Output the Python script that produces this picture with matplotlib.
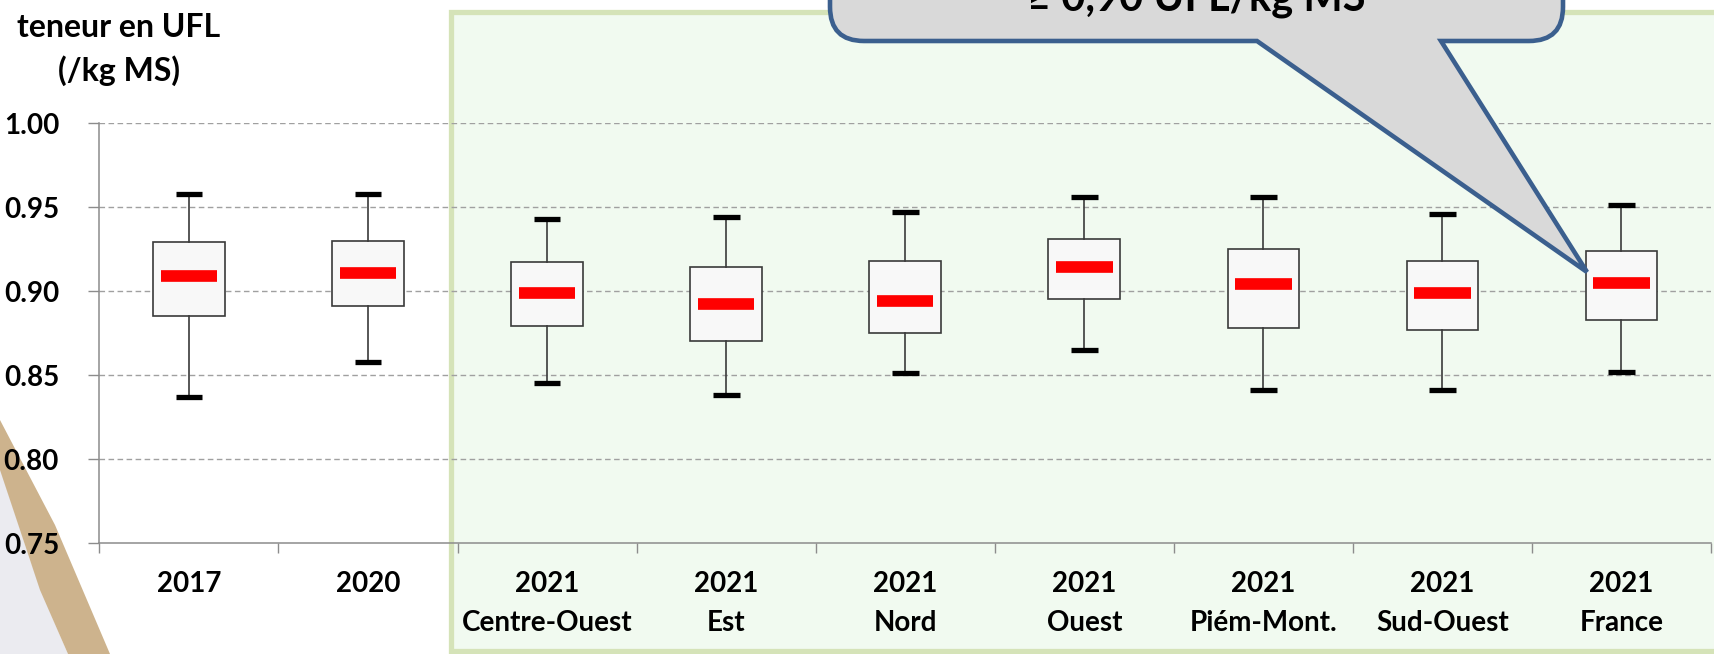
import numpy as np
import matplotlib.pyplot as plt
from matplotlib.patches import Rectangle, Polygon, PathPatch
from matplotlib.path import Path
from matplotlib.transforms import Affine2D

plt.rcParams['font.family'] = ['Lato', 'DejaVu Sans']
plt.rcParams['font.weight'] = 'bold'

# box statistics
labels = ["2017", "2020", "2021\nCentre-Ouest", "2021\nEst", "2021\nNord",
          "2021\nOuest", "2021\nPiém-Mont.", "2021\nSud-Ouest", "2021\nFrance"]
whisk_lo = [0.837, 0.858, 0.845, 0.838, 0.851, 0.865, 0.841, 0.841, 0.852]
q1 = [0.885, 0.891, 0.879, 0.870, 0.875, 0.895, 0.878, 0.877, 0.883]
med = [0.909, 0.911, 0.899, 0.892, 0.894, 0.914, 0.904, 0.899, 0.905]
q3 = [0.929, 0.930, 0.917, 0.914, 0.918, 0.931, 0.925, 0.918, 0.924]
whisk_hi = [0.958, 0.958, 0.943, 0.944, 0.947, 0.956, 0.956, 0.946, 0.951]

W, H = 1715, 654
fig = plt.figure(figsize=(W / 100, H / 100), dpi=100)
fig.patch.set_facecolor('white')
px = Affine2D().scale(1 / W, -1 / H).translate(0, 1) + fig.transFigure

# green panel behind the 2021 boxes
fig.add_artist(Rectangle((451, 12), 1280, 639, transform=px, facecolor='#f1faf0',
                         edgecolor='#d5e3b8', linewidth=3.8, zorder=-2))

# page curl decoration bottom-left
fig.add_artist(Polygon([(0, 468), (30, 560), (50, 612), (68, 654), (0, 654)], closed=True,
                       transform=px, facecolor='#ebebf0', edgecolor='none', zorder=-3))
fig.add_artist(Polygon([(0, 420), (55, 525), (110, 654), (68, 654), (40, 590), (0, 470)],
                       closed=True, transform=px, facecolor='#cdb38d', edgecolor='none', zorder=-3))

ax = fig.add_axes([99.4 / W, (H - 543) / H, (1711 - 99.4) / W, (543 - 123) / H])
ax.set_facecolor('none')

pos = np.arange(len(labels))
stats = [dict(whislo=a, q1=b, med=c, q3=d, whishi=e, fliers=[])
         for a, b, c, d, e in zip(whisk_lo, q1, med, q3, whisk_hi)]
ax.bxp(stats, positions=pos, widths=0.40, capwidths=0.15, patch_artist=True, showfliers=False,
       boxprops=dict(facecolor='#f8f8f8', edgecolor='#3a3a3a', linewidth=1.2),
       whiskerprops=dict(color='#3a3a3a', linewidth=1.2),
       capprops=dict(color='black', linewidth=3.8, solid_capstyle='butt'),
       medianprops=dict(linewidth=0), zorder=3)
ax.hlines(med, pos - 0.158, pos + 0.158, color='#ff0000', linewidth=8.4, zorder=4,
          capstyle='butt')

ax.set_xlim(-0.5, 8.5)
ax.set_ylim(0.75, 1.00)
ax.set_yticks([0.75, 0.80, 0.85, 0.90, 0.95, 1.00])
ax.set_yticklabels(['0.75', '0.80', '0.85', '0.90', '0.95', '1.00'])
ax.set_xticks(pos)
ax.set_xticklabels(labels, linespacing=1.62)
ax.set_xticks(np.arange(-0.5, 9, 1), minor=True)
ax.tick_params(axis='x', which='major', length=0, pad=20, labelsize=20)
ax.tick_params(axis='x', which='minor', length=7, color='#8c8c8c', width=1)
ax.tick_params(axis='y', length=8, color='#8c8c8c', width=1, pad=21, labelsize=20)

for v in [0.80, 0.85, 0.90, 0.95, 1.00]:
    ax.axhline(v, color='#a0a0a0', linewidth=1, linestyle=(0, (4, 2.5)), zorder=1)

for s in ['top', 'right']:
    ax.spines[s].set_visible(False)
ax.spines['left'].set_color('#8c8c8c')
ax.spines['bottom'].set_color('#8c8c8c')
ax.spines['left'].set_linewidth(1.1)
ax.spines['bottom'].set_linewidth(1.1)

# axis title
fig.text(119, 37, "teneur en UFL", transform=px, ha='center', va='baseline', fontsize=23)
fig.text(119, 81, "(/kg MS)", transform=px, ha='center', va='baseline', fontsize=23)

# callout bubble pointing at the France box
r = 34
bot = 41
L, R = 830, 1563
verts = [(1257, bot), (1587, 272), (1441, bot), (R - r, bot), (R, bot), (R, bot - r),
         (R, -60), (L, -60), (L, bot - r), (L, bot), (L + r, bot), (1257, bot)]
codes = [Path.MOVETO, Path.LINETO, Path.LINETO, Path.LINETO, Path.CURVE3, Path.CURVE3,
         Path.LINETO, Path.LINETO, Path.LINETO, Path.CURVE3, Path.CURVE3, Path.CLOSEPOLY]
fig.add_artist(PathPatch(Path(verts, codes), transform=px, facecolor='#d9d9d9',
                         edgecolor='#3b5f8e', linewidth=3.3, zorder=10))
fig.text(1196, 11, "≥ 0,90 UFL/kg MS", transform=px, ha='center', va='baseline',
         fontsize=30, zorder=11)

plt.savefig("out.png", dpi=100)
